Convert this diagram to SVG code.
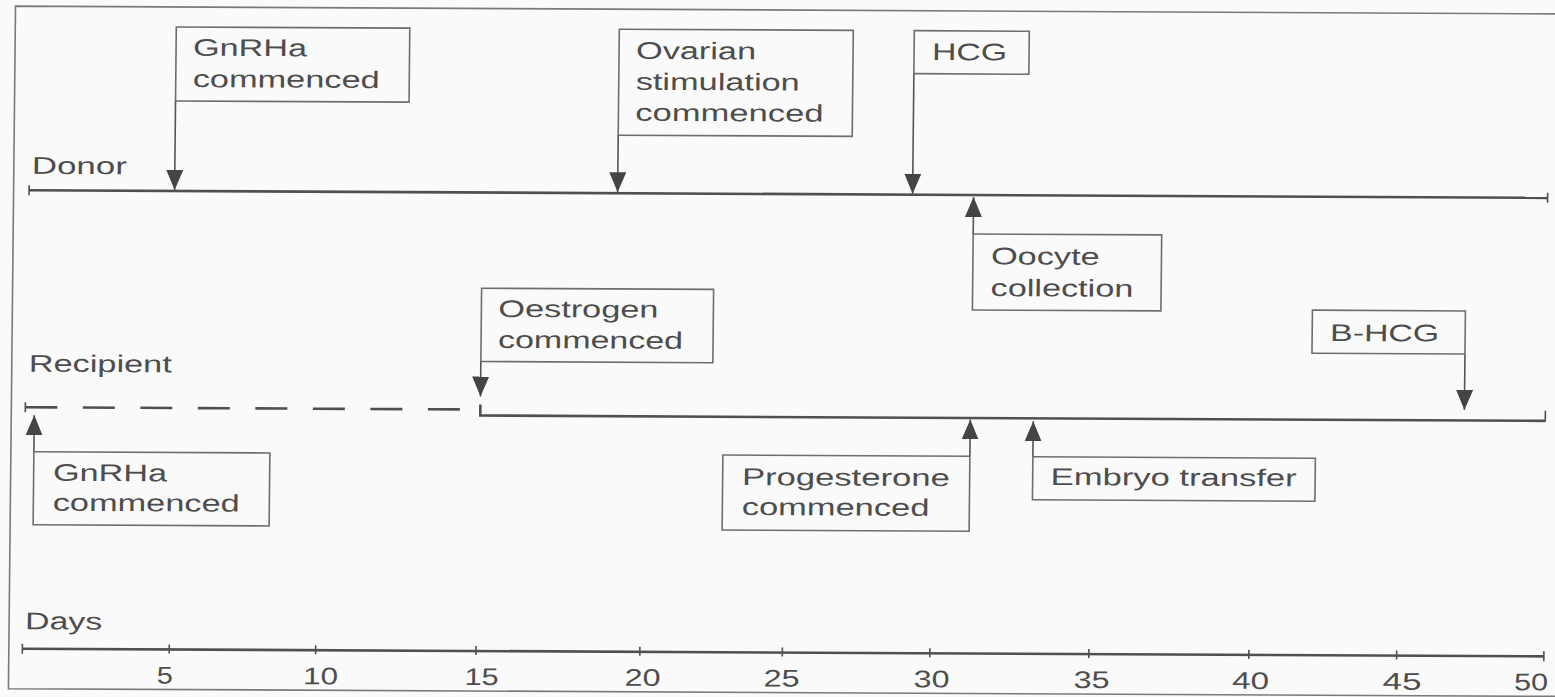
<svg xmlns="http://www.w3.org/2000/svg" width="1555" height="697" viewBox="0 0 1555 697">
<defs>
<style>
.t{font-family:"Liberation Sans",Arial,sans-serif;font-size:24px;fill:#4d4d4d}
.box{fill:none;stroke:#6e6e6e;stroke-width:1.6}
.ax{stroke:#505050;stroke-width:2.6;fill:none}
.ar{stroke:#555;stroke-width:1.6;fill:none}
.tk{stroke:#505050;stroke-width:1.6}
.fr{stroke:#7a7a7a;stroke-width:1.6;fill:none}
</style>
<marker id="ah" markerUnits="userSpaceOnUse" markerWidth="20" markerHeight="17" viewBox="0 0 20 17" refX="20" refY="8.5" orient="auto"><path d="M0,0 L20,8.5 L0,17 z" fill="#454545"/></marker>
</defs>
<rect x="0" y="0" width="1555" height="697" fill="#fafafa"/>
<g transform="matrix(1 0.005 -0.0104 1 3.62 -3.885)">
<path id="frame" class="fr" d="M1565,10 L12,10 L12,692.5 L1565,692.5"/>

<g id="axes">
<text class="t" x="30" y="177.5" textLength="95" lengthAdjust="spacingAndGlyphs">Donor</text>
<line class="ax" x1="27.5" y1="194" x2="1546" y2="194"/>
<line class="tk" x1="27.5" y1="189" x2="27.5" y2="199"/>
<line class="tk" x1="1546" y1="189" x2="1546" y2="199"/>

<text class="t" x="29" y="375.4" textLength="143" lengthAdjust="spacingAndGlyphs">Recipient</text>
<line class="ax" x1="26" y1="411" x2="462" y2="411" stroke-dasharray="32 25.5"/>
<line class="tk" x1="26" y1="406" x2="26" y2="416"/>
<path class="ax" d="M481,406 L481,417 L1546,417"/>
<line class="tk" x1="1546" y1="407" x2="1546" y2="418"/>

<text class="t" x="28" y="633" textLength="77" lengthAdjust="spacingAndGlyphs">Days</text>
<line class="ax" x1="25.5" y1="652.5" x2="1547" y2="652.5"/>
<g class="tk">
<line x1="25.5" y1="647.5" x2="25.5" y2="657.5"/>
<line x1="172.4" y1="647.5" x2="172.4" y2="656.5"/>
<line x1="318.8" y1="647.5" x2="318.8" y2="656.5"/>
<line x1="479.1" y1="647.5" x2="479.1" y2="656.5"/>
<line x1="643" y1="647.5" x2="643" y2="656.5"/>
<line x1="785.5" y1="647.5" x2="785.5" y2="656.5"/>
<line x1="933" y1="647.5" x2="933" y2="656.5"/>
<line x1="1092" y1="647.5" x2="1092" y2="656.5"/>
<line x1="1252" y1="647.5" x2="1252" y2="656.5"/>
<line x1="1399.8" y1="647.5" x2="1399.8" y2="656.5"/>
<line x1="1547" y1="647.5" x2="1547" y2="657.5"/>
</g>
<g class="t" text-anchor="middle">
<text x="168.2" y="686.5" textLength="16" lengthAdjust="spacingAndGlyphs">5</text>
<text x="324" y="686.5" textLength="35" lengthAdjust="spacingAndGlyphs">10</text>
<text x="485" y="686.5" textLength="34" lengthAdjust="spacingAndGlyphs">15</text>
<text x="646" y="686.5" textLength="36" lengthAdjust="spacingAndGlyphs">20</text>
<text x="785" y="686.5" textLength="36" lengthAdjust="spacingAndGlyphs">25</text>
<text x="935" y="686.5" textLength="36" lengthAdjust="spacingAndGlyphs">30</text>
<text x="1095" y="686.5" textLength="36" lengthAdjust="spacingAndGlyphs">35</text>
<text x="1254" y="686.5" textLength="37" lengthAdjust="spacingAndGlyphs">40</text>
<text x="1405.5" y="686.5" textLength="39" lengthAdjust="spacingAndGlyphs">45</text>
<text x="1534.5" y="686.5" textLength="34" lengthAdjust="spacingAndGlyphs">50</text>
</g>
</g>

<g id="connectors">
<line class="ar" x1="173" y1="104" x2="173" y2="193" marker-end="url(#ah)"/>
<line class="ar" x1="616" y1="136" x2="616" y2="193" marker-end="url(#ah)"/>
<line class="ar" x1="911" y1="73" x2="911" y2="193" marker-end="url(#ah)"/>
<line class="ar" x1="972" y1="233" x2="972" y2="196" marker-end="url(#ah)"/>
<line class="ar" x1="481" y1="363" x2="481" y2="398" marker-end="url(#ah)"/>
<line class="ar" x1="35" y1="455.5" x2="35" y2="419" marker-end="url(#ah)"/>
<line class="ar" x1="971" y1="455.3" x2="971" y2="418.5" marker-end="url(#ah)"/>
<line class="ar" x1="1034" y1="455.5" x2="1034" y2="420" marker-end="url(#ah)"/>
<line class="ar" x1="1465" y1="350.5" x2="1465" y2="406.5" marker-end="url(#ah)"/>
</g>

<g id="donor-gnrha">
<rect class="box" x="173" y="30" width="233.5" height="74"/>
<text class="t" x="190" y="58.6" textLength="114" lengthAdjust="spacingAndGlyphs">GnRHa</text>
<text class="t" x="190" y="90" textLength="187" lengthAdjust="spacingAndGlyphs">commenced</text>
</g>

<g id="ovarian-stimulation">
<rect class="box" x="616" y="30" width="234" height="106"/>
<text class="t" x="633" y="59.5" textLength="120" lengthAdjust="spacingAndGlyphs">Ovarian</text>
<text class="t" x="633" y="90.5" textLength="164" lengthAdjust="spacingAndGlyphs">stimulation</text>
<text class="t" x="633" y="121.5" textLength="188" lengthAdjust="spacingAndGlyphs">commenced</text>
</g>

<g id="hcg">
<rect class="box" x="911" y="30" width="115" height="43"/>
<text class="t" x="929" y="59.3" textLength="75" lengthAdjust="spacingAndGlyphs">HCG</text>
</g>

<g id="oocyte-collection">
<rect class="box" x="972" y="233" width="188.5" height="76"/>
<text class="t" x="990" y="263.2" textLength="108.7" lengthAdjust="spacingAndGlyphs">Oocyte</text>
<text class="t" x="990" y="295" textLength="142.7" lengthAdjust="spacingAndGlyphs">collection</text>
</g>

<g id="oestrogen">
<rect class="box" x="481" y="289.7" width="232" height="73.3"/>
<text class="t" x="498" y="318.3" textLength="160" lengthAdjust="spacingAndGlyphs">Oestrogen</text>
<text class="t" x="498" y="349.3" textLength="185" lengthAdjust="spacingAndGlyphs">commenced</text>
</g>

<g id="b-hcg">
<rect class="box" x="1312" y="307.5" width="153" height="43"/>
<text class="t" x="1330" y="338.2" textLength="109" lengthAdjust="spacingAndGlyphs">B-HCG</text>
</g>

<g id="recipient-gnrha">
<rect class="box" x="35" y="455.5" width="236" height="73"/>
<text class="t" x="54.4" y="484.4" textLength="114" lengthAdjust="spacingAndGlyphs">GnRHa</text>
<text class="t" x="54.4" y="514.4" textLength="187" lengthAdjust="spacingAndGlyphs">commenced</text>
</g>

<g id="progesterone">
<rect class="box" x="724" y="455.3" width="247" height="75"/>
<text class="t" x="743.4" y="485.2" textLength="207.7" lengthAdjust="spacingAndGlyphs">Progesterone</text>
<text class="t" x="743.4" y="515.2" textLength="187.7" lengthAdjust="spacingAndGlyphs">commenced</text>
</g>

<g id="embryo-transfer">
<rect class="box" x="1034" y="455.5" width="282.5" height="43"/>
<text class="t" x="1052" y="483.6" textLength="246" lengthAdjust="spacingAndGlyphs">Embryo transfer</text>
</g>
</g>
</svg>
